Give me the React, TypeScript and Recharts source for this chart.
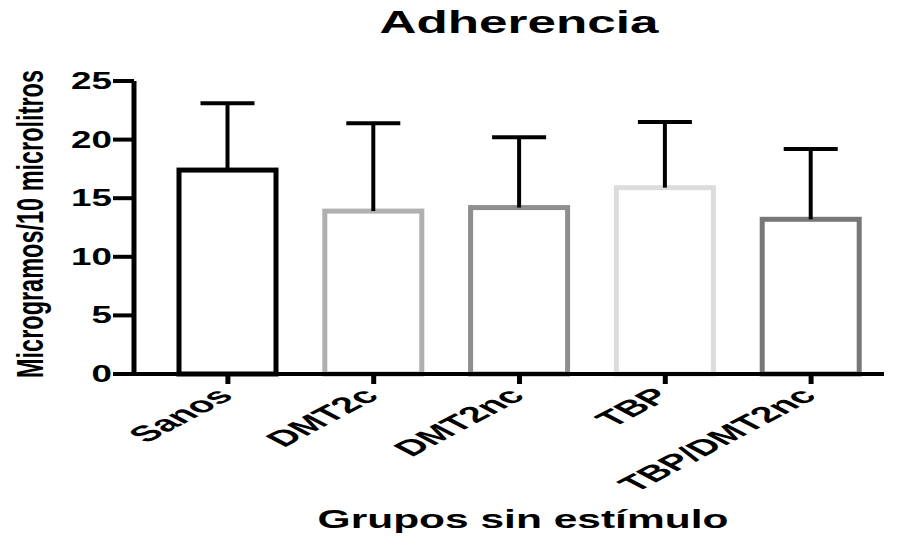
import { Bar, BarChart, Cell, XAxis, YAxis } from "recharts";

const categories = ["Sanos", "DMT2c", "DMT2nc", "TBP", "TBP/DMT2nc"];
const means = [17.4, 13.9, 14.2, 15.9, 13.2];
const sdUp = [5.7, 7.5, 6.0, 5.6, 6.0];
const strokes = ["#000000", "#b0b0b0", "#8e8e8e", "#dcdcdc", "#777777"];
const yTicks = [0, 5, 10, 15, 20, 25];

const data = categories.map((name, i) => ({
  name,
  value: means[i],
  sd: sdUp[i],
}));

const FONT = "'Liberation Sans', Arial, sans-serif";
// the reference picture is stretched sideways, so the text is too
const SX = 1.6;

function XTick(props: any) {
  const { x, y, payload } = props;
  return (
    <text
      transform={`translate(${x + 7}, ${y + 11}) scale(1.9, 1) rotate(-45)`}
      textAnchor="end"
      fontFamily={FONT}
      fontWeight="bold"
      fontSize={22}
      fill="#000"
    >
      {payload.value}
    </text>
  );
}

function YTick(props: any) {
  const { x, y, payload } = props;
  return (
    <text
      transform={`translate(${x}, ${y + 8}) scale(${SX}, 1)`}
      textAnchor="end"
      fontFamily={FONT}
      fontWeight="bold"
      fontSize={23}
      fill="#000"
    >
      {payload.value}
    </text>
  );
}

function YLabel() {
  return (
    <text
      transform={`translate(30, 224) scale(${SX}, 1) rotate(-90)`}
      textAnchor="middle"
      dominantBaseline="central"
      fontFamily={FONT}
      fontWeight="bold"
      fontSize={23}
      textLength={308}
      lengthAdjust="spacingAndGlyphs"
      fill="#000"
    >
      Microgramos/10 microlitros
    </text>
  );
}

// open bar with a one-sided (upper) error whisker
function BarWithError(props: any) {
  const { x, y, width, height, payload, stroke } = props;
  const pxPerUnit = height / payload.value;
  const top = y - payload.sd * pxPerUnit;
  const cx = x + width / 2;
  return (
    <g>
      <rect x={x} y={y} width={width} height={height} fill="#fff" stroke={stroke} strokeWidth={5} />
      <line x1={cx} y1={y} x2={cx} y2={top} stroke="#000" strokeWidth={4} />
      <line x1={cx - 27} y1={top} x2={cx + 27} y2={top} stroke="#000" strokeWidth={4} />
    </g>
  );
}

export default function App() {
  return (
    <div style={{ position: "absolute", left: 0, top: 0, width: 899, height: 537, background: "#fff" }}>
      <BarChart
        width={899}
        height={537}
        data={data}
        margin={{ top: 81, right: 15, left: 74, bottom: 63 }}
        style={{ position: "absolute", left: 0, top: 0 }}
      >
        <XAxis
          dataKey="name"
          height={100}
          padding={{ left: 21, right: 0 }}
          tick={<XTick />}
          tickSize={10}
          axisLine={{ stroke: "#000", strokeWidth: 4 }}
          tickLine={{ stroke: "#000", strokeWidth: 5 }}
          interval={0}
        />
        <YAxis
          width={60}
          domain={[0, 25]}
          ticks={yTicks}
          tickSize={21}
          tickMargin={1}
          axisLine={{ stroke: "#000", strokeWidth: 5 }}
          tickLine={{ stroke: "#000", strokeWidth: 4 }}
          tick={<YTick />}
          label={<YLabel />}
        />
        <Bar dataKey="value" barSize={97} shape={<BarWithError />} isAnimationActive={false}>
          {data.map((d, i) => (
            <Cell key={d.name} fill="#fff" stroke={strokes[i]} />
          ))}
        </Bar>
      </BarChart>
      <svg width={899} height={537} style={{ position: "absolute", left: 0, top: 0, pointerEvents: "none" }}>
        <text
          transform={`translate(519, 33) scale(${SX}, 1)`}
          textAnchor="middle"
          fontFamily={FONT}
          fontWeight="bold"
          fontSize={32}
          fill="#000"
        >
          Adherencia
        </text>
        <text
          transform="translate(523, 528) scale(1.7, 1)"
          textAnchor="middle"
          fontFamily={FONT}
          fontWeight="bold"
          fontSize={25}
          fill="#000"
        >
          Grupos sin estímulo
        </text>
      </svg>
    </div>
  );
}
